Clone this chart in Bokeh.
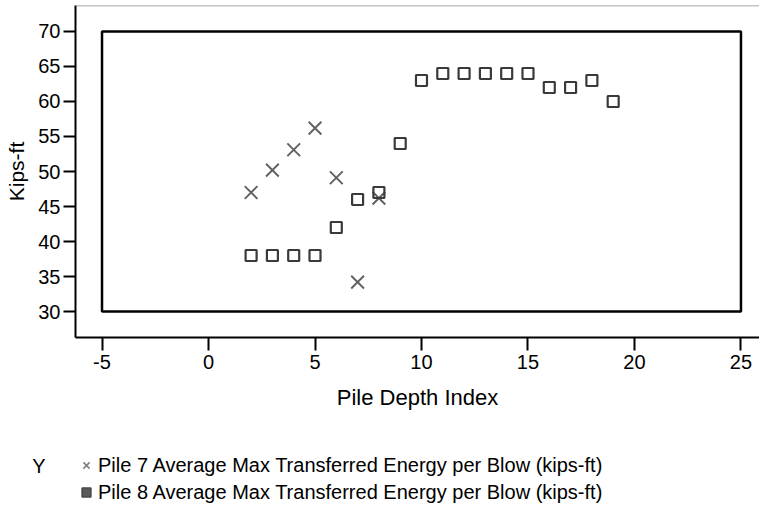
from bokeh.plotting import figure
from bokeh.layouts import column
from bokeh.models import (Range1d, FixedTicker, Legend, LegendItem, Span,
                          ColumnDataSource)
from bokeh.embed import file_html
from bokeh.resources import INLINE

# ---- data ----
pile7_x = [2, 3, 4, 5, 6, 7, 8]
pile7_y = [47.0, 50.2, 53.1, 56.2, 49.1, 34.2, 46.2]

pile8_x = [2, 3, 4, 5, 6, 7, 8, 9, 10, 11, 12, 13, 14, 15, 16, 17, 18, 19]
pile8_y = [38, 38, 38, 38, 42, 46, 47, 54, 63, 64, 64, 64, 64, 64, 62, 62, 63, 60]

x_ticks = [-5, 0, 5, 10, 15, 20, 25]
y_ticks = [30, 35, 40, 45, 50, 55, 60, 65, 70]

label7 = "Pile 7 Average Max Transferred Energy per Blow (kips-ft)"
label8 = "Pile 8 Average Max Transferred Energy per Blow (kips-ft)"
legend_title = "Y"

FONT = "Liberation Sans"

x_rng = Range1d(-6.245, 25.87)
y_rng = Range1d(26.29, 73.71)

p = figure(width=759, height=420, output_backend="svg", toolbar_location=None,
           x_range=x_rng, y_range=y_rng,
           min_border_left=75, min_border_right=0, min_border_top=5,
           min_border_bottom=83)
p.outline_line_color = None
p.grid.visible = False
p.background_fill_color = "white"
p.border_fill_color = "white"

for ax in (p.xaxis[0], p.yaxis[0]):
    ax.axis_line_color = "black"
    ax.axis_line_width = 2
    ax.major_tick_line_color = "black"
    ax.major_tick_line_width = 2
    ax.major_tick_in = 0
    ax.minor_tick_line_color = None
    ax.major_label_text_font = FONT
    ax.major_label_text_font_size = "20px"
    ax.major_label_text_color = "black"
    ax.axis_label_text_font = FONT
    ax.axis_label_text_font_style = "normal"
    ax.axis_label_text_color = "black"

p.xaxis[0].axis_label_text_font_size = "22px"
p.yaxis[0].axis_label_text_font_size = "21px"
p.xaxis[0].ticker = FixedTicker(ticks=x_ticks)
p.yaxis[0].ticker = FixedTicker(ticks=y_ticks)
p.xaxis[0].major_label_overrides = {t: str(t) for t in x_ticks}
p.xaxis[0].major_tick_out = 13
p.yaxis[0].major_tick_out = 12
p.xaxis[0].major_label_standoff = 4
p.yaxis[0].major_label_standoff = 3
p.xaxis[0].axis_label = "Pile Depth Index"
p.yaxis[0].axis_label = "Kips-ft"
p.xaxis[0].axis_label_standoff = 13
p.yaxis[0].axis_label_standoff = 7

# top border of the plotting area
p.add_layout(Span(location=y_rng.end, dimension="width", line_color="#888888",
                  line_width=1.5))

# inner bounding box spanning the tick extents
p.quad(left=[min(x_ticks)], right=[max(x_ticks)], bottom=[min(y_ticks)],
       top=[max(y_ticks)], fill_color=None, line_color="black", line_width=2.5)

# data markers
p.scatter(pile7_x, pile7_y, marker="x", size=18, line_color="#606060",
          line_width=1.9)
p.scatter(pile8_x, pile8_y, marker="square", size=11, fill_color=None,
          line_color="#3a3a3a", line_width=2.2)

# ---- legend panel ----
LG_H = 89
lg = figure(width=759, height=LG_H, output_backend="svg", toolbar_location=None,
            x_range=Range1d(0, 1), y_range=Range1d(0, LG_H),
            x_axis_location=None,
            min_border_left=0, min_border_right=0, min_border_top=0,
            min_border_bottom=0)
lg.grid.visible = False
lg.outline_line_color = None
lg.background_fill_color = "white"
lg.border_fill_color = "white"

# the "Y" caption of the legend, drawn as the single label of a bare y axis
yax = lg.yaxis[0]
yax.ticker = FixedTicker(ticks=[44])
yax.major_label_overrides = {44: legend_title}
yax.axis_line_color = None
yax.major_tick_line_color = None
yax.minor_tick_line_color = None
yax.major_tick_out = 0
yax.major_tick_in = 0
yax.major_label_standoff = 30
yax.major_label_text_font = FONT
yax.major_label_text_font_size = "20px"
yax.major_label_text_color = "black"

# one point each (outside the legend panel's visible range) so legend glyphs draw
src7 = ColumnDataSource(data=dict(x=pile7_x[:1], y=pile7_y[:1]))
src8 = ColumnDataSource(data=dict(x=pile8_x[:1], y=pile8_y[:1]))
r7 = lg.scatter("x", "y", source=src7, marker="x", size=10,
                line_color="#808080", line_width=1.6)
r8 = lg.scatter("x", "y", source=src8, marker="square", size=9,
                fill_color="#5a5a5a", line_color="#444444", line_width=1.5)

legend = Legend(items=[LegendItem(label=label7, renderers=[r7], index=0),
                       LegendItem(label=label8, renderers=[r8], index=0)],
                location=(0, 5), orientation="vertical",
                glyph_width=22, glyph_height=24, label_height=24,
                spacing=3, padding=0, margin=0, label_standoff=1,
                label_text_font=FONT, label_text_font_size="20px",
                label_text_color="black",
                border_line_color=None, background_fill_alpha=0)
lg.add_layout(legend, "center")

layout = column(p, lg, spacing=0)
open("out.html", "w").write(file_html(layout, INLINE))
